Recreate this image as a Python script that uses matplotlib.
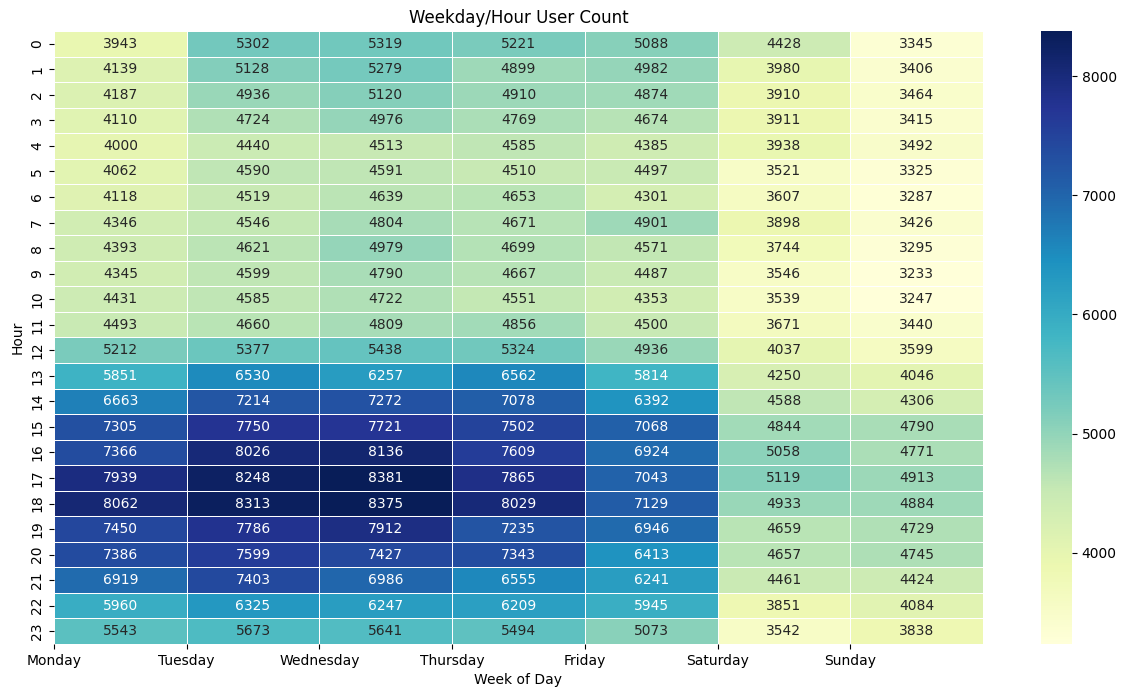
import matplotlib
matplotlib.use("Agg")
import matplotlib.pyplot as plt
import seaborn as sns
import numpy as np
import pandas as pd

days = ["Monday", "Tuesday", "Wednesday", "Thursday", "Friday", "Saturday", "Sunday"]
hours = list(range(24))

monday = [3943, 4139, 4187, 4110, 4000, 4062, 4118, 4346, 4393, 4345, 4431, 4493,
          5212, 5851, 6663, 7305, 7366, 7939, 8062, 7450, 7386, 6919, 5960, 5543]
tuesday = [5302, 5128, 4936, 4724, 4440, 4590, 4519, 4546, 4621, 4599, 4585, 4660,
           5377, 6530, 7214, 7750, 8026, 8248, 8313, 7786, 7599, 7403, 6325, 5673]
wednesday = [5319, 5279, 5120, 4976, 4513, 4591, 4639, 4804, 4979, 4790, 4722, 4809,
             5438, 6257, 7272, 7721, 8136, 8381, 8375, 7912, 7427, 6986, 6247, 5641]
thursday = [5221, 4899, 4910, 4769, 4585, 4510, 4653, 4671, 4699, 4667, 4551, 4856,
            5324, 6562, 7078, 7502, 7609, 7865, 8029, 7235, 7343, 6555, 6209, 5494]
friday = [5088, 4982, 4874, 4674, 4385, 4497, 4301, 4901, 4571, 4487, 4353, 4500,
          4936, 5814, 6392, 7068, 6924, 7043, 7129, 6946, 6413, 6241, 5945, 5073]
saturday = [4428, 3980, 3910, 3911, 3938, 3521, 3607, 3898, 3744, 3546, 3539, 3671,
            4037, 4250, 4588, 4844, 5058, 5119, 4933, 4659, 4657, 4461, 3851, 3542]
sunday = [3345, 3406, 3464, 3415, 3492, 3325, 3287, 3426, 3295, 3233, 3247, 3440,
          3599, 4046, 4306, 4790, 4771, 4913, 4884, 4729, 4745, 4424, 4084, 3838]

df = pd.DataFrame({"Monday": monday, "Tuesday": tuesday, "Wednesday": wednesday,
                   "Thursday": thursday, "Friday": friday, "Saturday": saturday,
                   "Sunday": sunday}, index=hours)

fig = plt.figure(figsize=(11.27, 6.99), dpi=100)
ax = fig.add_axes([0.0479, 0.0787, 0.8243, 0.877])
cax = fig.add_axes([0.9237, 0.0787, 0.0275, 0.877])

sns.heatmap(df, annot=True, fmt="d", cmap="YlGnBu", linewidths=0.5,
            linecolor="white", ax=ax, cbar_ax=cax)

ax.set_title("Weekday/Hour User Count")
ax.set_xlabel("Week of Day")
ax.set_ylabel("Hour")
# day labels sit on the cell edges, like plt.xticks(range(7), days)
ax.set_xticks(range(7))
ax.set_xticklabels(days, rotation=0)
ax.set_yticks(np.arange(24) + 0.5)
ax.set_yticklabels(hours, rotation=90, va="center")
cax.tick_params(labelsize=10)

fig.savefig("out.png", dpi=100)
